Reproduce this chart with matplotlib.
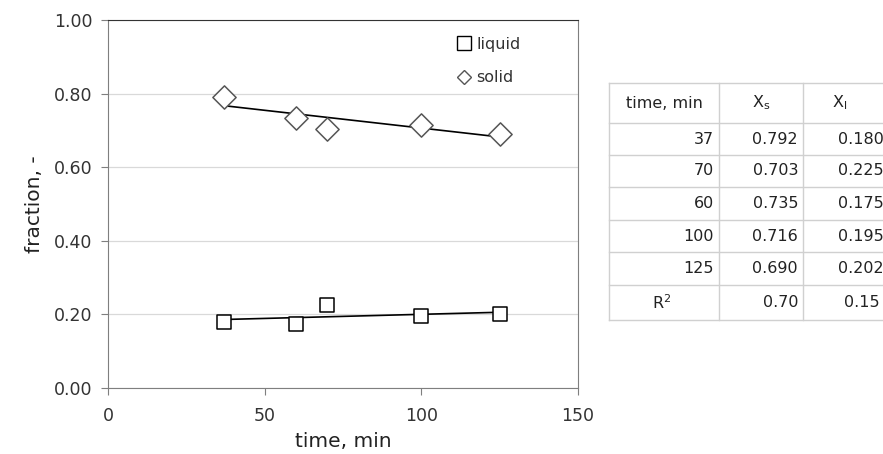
import numpy as np
import matplotlib.pyplot as plt
from matplotlib.lines import Line2D

# data
time_min = [37, 70, 60, 100, 125]
x_solid = [0.792, 0.703, 0.735, 0.716, 0.690]
x_liquid = [0.180, 0.225, 0.175, 0.195, 0.202]
r2 = ['0.70', '0.15']
x_ticks = [0, 50, 100, 150]
y_ticks = [0.0, 0.2, 0.4, 0.6, 0.8, 1.0]

fig = plt.figure(figsize=(8.83, 4.54), dpi=100)
ax = fig.add_axes([108/883, 1-388/454, 470/883, 368/454])

gray = '#7f7f7f'
ax.scatter(time_min, x_solid, marker='D', s=140, facecolor='white',
           edgecolor='#555555', linewidth=1.1, zorder=3)
ax.scatter(time_min, x_liquid, marker='s', s=90, facecolor='white',
           edgecolor='black', linewidth=1.1, zorder=3)

# linear trend lines
for ys in (x_solid, x_liquid):
    k, b = np.polyfit(time_min, ys, 1)
    xx = np.array([min(time_min), max(time_min)])
    ax.plot(xx, k*xx + b, color='black', lw=1.2, zorder=2)

ax.set_xlim(0, 150)
ax.set_ylim(0, 1)
ax.set_xticks(x_ticks)
ax.set_yticks(y_ticks)
ax.set_yticklabels([f'{v:.2f}' for v in y_ticks])
ax.yaxis.grid(True, color='#d9d9d9', lw=0.9)
ax.set_axisbelow(True)
for s in ax.spines.values():
    s.set_color(gray)
ax.spines['top'].set_color('#333333')
ax.tick_params(direction='out', length=5, color=gray, labelsize=12.5,
               labelcolor='#333333')
ax.tick_params(axis='y', pad=6)
ax.tick_params(axis='x', pad=9)
ax.set_xlabel('time, min', fontsize=14.5, color='#222222', labelpad=5)
ax.set_ylabel('fraction, -', fontsize=14.5, color='#222222', labelpad=7)

handles = [Line2D([], [], ls='none', marker='s', ms=10, mfc='white', mec='black', mew=1.0),
           Line2D([], [], ls='none', marker='D', ms=7, mfc='white', mec='#555555', mew=1.0)]
ax.legend(handles, ['liquid', 'solid'], loc='upper left', bbox_to_anchor=(0.707, 0.993),
          frameon=False, handletextpad=0.15, labelspacing=1.15, fontsize=11.5,
          labelcolor='#333333', handlelength=1.2)

# table on the right
W, H = 883, 454
cols = [609, 719, 803, 900]
rows = [83, 123, 155, 187, 220, 252, 285, 320]
lc = '#d0d0d0'
for xv in cols[:3]:
    fig.add_artist(Line2D([xv/W]*2, [1-rows[0]/H, 1-rows[-1]/H], color=lc, lw=1))
for yv in rows:
    fig.add_artist(Line2D([cols[0]/W, 1], [1-yv/H]*2, color=lc, lw=1))

tf = dict(fontsize=11.5, color='#222222', va='center')
hy = 1 - (rows[0]+rows[1])/2/H
fig.text(664/W, hy, 'time, min', ha='center', **tf)
fig.text(761/W, hy, r'X$_\mathregular{s}$', ha='center', **tf)
fig.text(840/W, hy, r'X$_\mathregular{l}$', ha='center', **tf)
for i, t in enumerate(time_min):
    yc = 1 - (rows[i+1]+rows[i+2])/2/H
    fig.text(714/W, yc, str(t), ha='right', **tf)
    fig.text(798/W, yc, f'{x_solid[i]:.3f}', ha='right', **tf)
    fig.text(884/W, yc, f'{x_liquid[i]:.3f}', ha='right', **tf)
yc = 1 - (rows[6]+rows[7])/2/H
fig.text(662/W, yc, r'R$^\mathregular{2}$', ha='center', **tf)
fig.text(798/W, yc, r2[0], ha='right', **tf)
fig.text(880/W, yc, r2[1], ha='right', **tf)

fig.savefig('out.png', dpi=100)
